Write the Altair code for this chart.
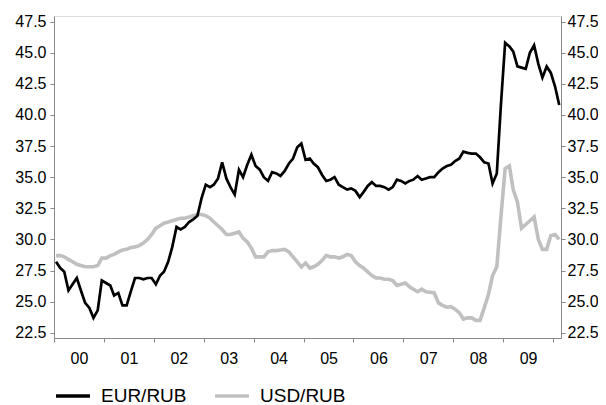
import altair as alt
import pandas as pd

# Monthly observations, Jan 2000 .. Feb 2010
months = [f"{2000 + k // 12}-{k % 12 + 1:02d}-16T00:00:00" for k in range(122)]

eur_rub = [
    28.2, 27.7, 27.4, 25.9, 26.4, 26.9, 25.9, 24.9, 24.5, 23.7, 24.3, 26.7,
    26.5, 26.3, 25.5, 25.7, 24.7, 24.7, 25.8, 26.9, 26.9, 26.8, 26.9, 26.9,
    26.4, 27.1, 27.4, 28.2, 29.4, 31.0, 30.8, 31.0, 31.4, 31.6, 31.9, 33.3,
    34.4, 34.2, 34.4, 34.9, 36.2, 34.9, 34.2, 33.6, 35.6, 35.0, 36.0, 36.8,
    35.9, 35.6, 35.0, 34.7, 35.4, 35.3, 35.1, 35.5, 36.1, 36.5, 37.4, 37.7,
    36.4, 36.5, 36.1, 35.8, 35.2, 34.7, 34.8, 35.0, 34.4, 34.2, 34.0, 34.1,
    33.9, 33.4, 33.8, 34.3, 34.6, 34.3, 34.3, 34.2, 34.0, 34.2, 34.8, 34.7,
    34.5, 34.7, 34.8, 35.1, 34.8, 34.9, 35.0, 35.0, 35.4, 35.7, 35.9, 36.0,
    36.3, 36.5, 37.05, 36.95, 36.9, 36.9, 36.6, 36.2, 36.1, 34.5, 35.3, 40.8,
    45.8, 45.5, 45.1, 43.9, 43.8, 43.7, 45.0, 45.6, 44.1, 43.0, 43.9, 43.4,
    42.3, 40.8,
]

usd_rub = [
    28.7, 28.7, 28.6, 28.4, 28.2, 28.0, 27.9, 27.8, 27.8, 27.8, 27.9, 28.5,
    28.5, 28.7, 28.8, 29.0, 29.15, 29.2, 29.35, 29.4, 29.5, 29.7, 30.0, 30.4,
    30.9, 31.1, 31.3, 31.4, 31.5, 31.6, 31.7, 31.7, 31.8, 31.9, 32.0, 32.0,
    31.9, 31.7, 31.4, 31.1, 30.8, 30.4, 30.4, 30.5, 30.6, 30.1, 29.8, 29.3,
    28.6, 28.6, 28.6, 29.0, 29.1, 29.1, 29.15, 29.2, 29.0, 28.6, 28.2, 27.8,
    28.1, 27.7, 27.8, 28.0, 28.3, 28.7, 28.6, 28.6, 28.5, 28.6, 28.8, 28.7,
    28.2, 27.9, 27.7, 27.4, 27.1, 26.9, 26.9, 26.8, 26.8, 26.7, 26.3, 26.4,
    26.5, 26.2, 26.0, 25.8, 26.0, 25.8, 25.75, 25.7, 24.9, 24.7, 24.55, 24.6,
    24.4, 24.1, 23.6, 23.7, 23.7, 23.5, 23.5, 24.5, 25.6, 27.1, 27.8, 31.8,
    35.7, 35.9, 34.0, 33.0, 30.9, 31.2, 31.5, 31.8, 30.0, 29.2, 29.2, 30.3,
    30.4, 30.0,
]

series_names = ["EUR/RUB", "USD/RUB"]
series_colors = ["#000000", "#c0c0c0"]
y_ticks = [22.5, 25.0, 27.5, 30.0, 32.5, 35.0, 37.5, 40.0, 42.5, 45.0, 47.5]
year_ticks = list(range(2000, 2011))

eur_df = pd.DataFrame({"date": months, "value": eur_rub, "series": "EUR/RUB"})
usd_df = pd.DataFrame({"date": months, "value": usd_rub, "series": "USD/RUB"})

FONT = "Liberation Sans"

x_enc = alt.X(
    "date:T",
    scale=alt.Scale(
        domain=[alt.DateTime(year=2000, month=1, date=1),
                alt.DateTime(year=2010, month=3, date=1)],
        nice=False,
    ),
    axis=alt.Axis(
        values=[alt.DateTime(year=y, month=1, date=1) for y in year_ticks],
        format="%y",
        labelExpr="year(datum.value) > 2009 ? '' : datum.label",
        labelOffset=25,
        labelAlign="center",
        labelPadding=8,
        labelFont=FONT,
        labelFontSize=16,
        labelColor="#000000",
        tickSize=4,
        grid=False,
        title=None,
    ),
)

y_scale = alt.Scale(domain=[22.08, 47.95], nice=False, zero=False)


def y_axis(orient, pad):
    return alt.Axis(
        orient=orient,
        values=y_ticks,
        format=".1f",
        tickSize=4,
        labelPadding=pad,
        labelFont=FONT,
        labelFontSize=16,
        labelColor="#000000",
        grid=False,
        title=None,
    )


color_enc = alt.Color(
    "series:N",
    scale=alt.Scale(domain=series_names, range=series_colors),
    legend=alt.Legend(
        orient="none",
        legendX=0,
        legendY=361,
        direction="horizontal",
        title=None,
        symbolType="stroke",
        symbolSize=1156,
        symbolStrokeWidth=3.5,
        labelFontSize=19,
        labelFont=FONT,
        labelColor="#000000",
        labelOffset=9,
        columnPadding=21,
    ),
)

usd_line = alt.Chart(usd_df).mark_line(strokeWidth=3.6).encode(
    x=x_enc,
    y=alt.Y("value:Q", scale=y_scale, axis=y_axis("left", 4)),
    color=color_enc,
)

eur_line = alt.Chart(eur_df).mark_line(strokeWidth=2.7).encode(
    x=x_enc,
    y=alt.Y("value:Q", scale=y_scale, axis=y_axis("right", 2)),
    color=color_enc,
)

chart = (
    alt.layer(usd_line, eur_line)
    .resolve_axis(y="independent")
    .properties(
        width=507,
        height=322,
        padding={"left": 46, "top": 8, "right": 37, "bottom": 67},
        autosize=alt.AutoSizeParams(type="none"),
    )
    .configure_view(strokeWidth=0)
    .configure_axis(
        domainColor="#000000",
        tickColor="#000000",
        domainWidth=1,
        tickWidth=1,
    )
    .configure(background="#ffffff")
)

chart.save("out.html", embed_options={"renderer": "svg", "actions": False})
